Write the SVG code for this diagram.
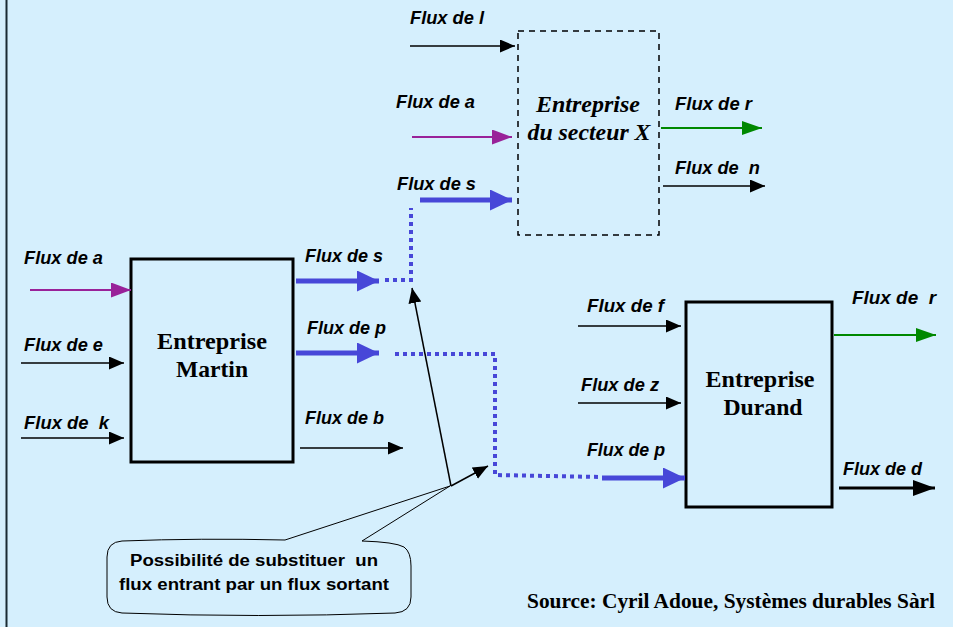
<svg xmlns="http://www.w3.org/2000/svg" width="953" height="627" viewBox="0 0 953 627">
<defs>
<style>
text{white-space:pre}
.lbl{font-family:"Liberation Sans",Arial,sans-serif;font-weight:bold;font-style:italic;font-size:17.5px;fill:#000}
.box{fill:none;stroke:#000;stroke-width:3}
.name{font-family:"Liberation Serif","Times New Roman",serif;font-weight:bold;font-size:23.5px;fill:#000;text-anchor:middle}
.thin{stroke:#000;stroke-width:1.5;fill:none}
.purple{stroke:#992299;stroke-width:2;fill:none}
.green{stroke:#008800;stroke-width:2;fill:none}
.blue{stroke:#4747D8;stroke-width:5;fill:none}
.dots{stroke:#4747D8;stroke-width:4;fill:none;stroke-dasharray:4 4}
.bub{font-family:"Liberation Sans",Arial,sans-serif;font-weight:bold;font-size:16px;fill:#000}
</style>
<marker id="hk" markerUnits="userSpaceOnUse" markerWidth="16" markerHeight="14" refX="15" refY="6.5" orient="auto"><path d="M0,0 L15,6.5 L0,13 Z" fill="#000"/></marker>
<marker id="hp" markerUnits="userSpaceOnUse" markerWidth="21" markerHeight="16" refX="20" refY="7.5" orient="auto"><path d="M0,0 L20,7.5 L0,15 Z" fill="#992299"/></marker>
<marker id="hg" markerUnits="userSpaceOnUse" markerWidth="21" markerHeight="16" refX="20" refY="7" orient="auto"><path d="M0,0 L20,7 L0,14 Z" fill="#008800"/></marker>
<marker id="hb" markerUnits="userSpaceOnUse" markerWidth="23" markerHeight="22" refX="22" refY="10.5" orient="auto"><path d="M0,0 L22,10.5 L0,21 Z" fill="#4747D8"/></marker>
<marker id="hd" markerUnits="userSpaceOnUse" markerWidth="23" markerHeight="17" refX="22" refY="8" orient="auto"><path d="M0,0 L22,8 L0,16 Z" fill="#000"/></marker>
</defs>
<rect x="0" y="0" width="953" height="627" fill="#D5EFFD"/>
<line x1="6.5" y1="0" x2="6.5" y2="627" stroke="#1a2a33" stroke-width="2"/>

<g id="martin">
<rect class="box" x="131" y="259" width="162" height="203"/>
<text class="name" x="212" y="349" textLength="110" lengthAdjust="spacingAndGlyphs">Entreprise</text>
<text class="name" x="212" y="377" textLength="72" lengthAdjust="spacingAndGlyphs">Martin</text>
</g>
<g id="durand">
<rect class="box" x="686" y="302" width="146" height="205"/>
<text class="name" x="760" y="387" textLength="109" lengthAdjust="spacingAndGlyphs">Entreprise</text>
<text class="name" x="763" y="415" textLength="79" lengthAdjust="spacingAndGlyphs">Durand</text>
</g>
<g id="secteurX">
<rect x="518" y="31" width="141" height="204" fill="none" stroke="#000" stroke-width="1.5" stroke-dasharray="6 5"/>
<text class="name" x="588" y="112" font-style="italic" textLength="104" lengthAdjust="spacingAndGlyphs">Entreprise</text>
<text class="name" x="589" y="140" font-style="italic" textLength="123" lengthAdjust="spacingAndGlyphs">du secteur X</text>
</g>
<g id="callout">
<path d="M122,541 Q200,538 285,540 L450,486 L362,541 Q395,542 404,547 Q411,552 411,566 L411,597 Q411,612 395,613 Q258,618 122,613 Q107,612 107,597 L107,557 Q107,542 122,541 Z" fill="#D5EFFD" stroke="#000" stroke-width="1"/>
<text class="bub" x="130" y="566" textLength="248" lengthAdjust="spacingAndGlyphs">Possibilité de substituer  un</text>
<text class="bub" x="119" y="590" textLength="270" lengthAdjust="spacingAndGlyphs">flux entrant par un flux sortant</text>
</g>
<g id="source">
<text x="527" y="608" font-family="'Liberation Serif','Times New Roman',serif" font-weight="bold" font-size="20" textLength="408" lengthAdjust="spacingAndGlyphs">Source: Cyril Adoue, Systèmes durables Sàrl</text>
</g>

<g id="labels">
<text class="lbl" x="410" y="24" textLength="74" lengthAdjust="spacingAndGlyphs">Flux de l</text>
<text class="lbl" x="396" y="108" textLength="79" lengthAdjust="spacingAndGlyphs">Flux de a</text>
<text class="lbl" x="397" y="190" textLength="79" lengthAdjust="spacingAndGlyphs">Flux de s</text>
<text class="lbl" x="675" y="110" textLength="77" lengthAdjust="spacingAndGlyphs">Flux de r</text>
<text class="lbl" x="675" y="174" textLength="85" lengthAdjust="spacingAndGlyphs">Flux de  n</text>
<text class="lbl" x="24" y="264" textLength="79" lengthAdjust="spacingAndGlyphs">Flux de a</text>
<text class="lbl" x="24" y="351" textLength="79" lengthAdjust="spacingAndGlyphs">Flux de e</text>
<text class="lbl" x="24" y="429" textLength="85" lengthAdjust="spacingAndGlyphs">Flux de  k</text>
<text class="lbl" x="305" y="262" textLength="78" lengthAdjust="spacingAndGlyphs">Flux de s</text>
<text class="lbl" x="307" y="334" textLength="79" lengthAdjust="spacingAndGlyphs">Flux de p</text>
<text class="lbl" x="305" y="424" textLength="79" lengthAdjust="spacingAndGlyphs">Flux de b</text>
<text class="lbl" x="587" y="312" textLength="77" lengthAdjust="spacingAndGlyphs">Flux de f</text>
<text class="lbl" x="581" y="391" textLength="78" lengthAdjust="spacingAndGlyphs">Flux de z</text>
<text class="lbl" x="587" y="456" textLength="78" lengthAdjust="spacingAndGlyphs">Flux de p</text>
<text class="lbl" x="852" y="304" textLength="84" lengthAdjust="spacingAndGlyphs">Flux de  r</text>
<text class="lbl" x="843" y="475" textLength="79" lengthAdjust="spacingAndGlyphs">Flux de d</text>
</g>

<g id="connectors">
<line class="thin" x1="410" y1="46" x2="515" y2="46" marker-end="url(#hk)"/>
<line class="purple" x1="412" y1="137" x2="512" y2="137" marker-end="url(#hp)"/>
<line class="blue" x1="420" y1="200" x2="512" y2="200" marker-end="url(#hb)"/>
<line class="green" x1="661" y1="128" x2="762" y2="128" marker-end="url(#hg)"/>
<line class="thin" x1="663" y1="186" x2="765" y2="186" marker-end="url(#hk)"/>
<line class="purple" x1="30" y1="290" x2="131" y2="290" marker-end="url(#hp)"/>
<line class="thin" x1="21" y1="363" x2="124" y2="363" marker-end="url(#hk)"/>
<line class="thin" x1="21" y1="438" x2="124" y2="438" marker-end="url(#hk)"/>
<line class="blue" x1="296" y1="281" x2="379" y2="281" marker-end="url(#hb)"/>
<line class="blue" x1="296" y1="353" x2="379" y2="353" marker-end="url(#hb)"/>
<line class="thin" x1="300" y1="448" x2="403" y2="448" marker-end="url(#hk)"/>
<path class="dots" d="M385,280 L411,280 L411,208"/>
<path class="dots" d="M395,354 L495,354 L495,475 L601,477"/>
<line class="blue" x1="602" y1="478" x2="685" y2="478" marker-end="url(#hb)"/>
<line class="thin" x1="578" y1="326" x2="681" y2="326" marker-end="url(#hk)"/>
<line class="thin" x1="578" y1="403" x2="681" y2="403" marker-end="url(#hk)"/>
<line class="green" x1="834" y1="335" x2="936" y2="335" marker-end="url(#hg)"/>
<line x1="839" y1="488" x2="935" y2="488" stroke="#000" stroke-width="3" marker-end="url(#hd)"/>
<line class="thin" x1="451" y1="486" x2="412" y2="288" marker-end="url(#hk)"/>
<line class="thin" x1="451" y1="486" x2="488" y2="466" marker-end="url(#hk)"/>
</g>
</svg>
